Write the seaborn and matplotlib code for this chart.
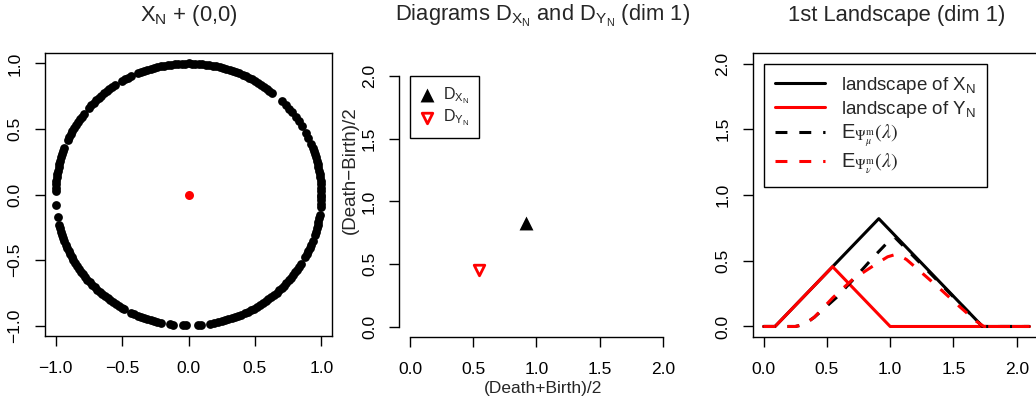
import numpy as np
import matplotlib
matplotlib.use("Agg")
import matplotlib.pyplot as plt
import seaborn as sns

# sample X_N: angles (degrees) of the points
circle_deg = [
    0, 1.5, 3, 4.5, 6, 7.5, 9, 10.5, 12, 13.5, 15, 16.5, 18, 19.5, 21, 22.5,
    25.5, 28, 31.5, 34, 36, 39, 41, 43, 45.5,
    51, 52.5, 54, 55.5, 57, 58.5, 60, 61.5, 63, 64.5, 66, 67.5, 69, 70.5, 72,
    73.5, 75, 76.5, 78, 79.5, 81, 82.5, 84, 85.5, 87, 88.5, 90, 91.5, 93, 94.5,
    96, 97.5, 99, 100.5, 102, 103.5, 105, 106.5, 108, 109.5, 111, 112.5,
    115.5, 117, 118.5, 120,
    123.5, 125, 126.5, 128, 129.5, 131, 132.5, 134, 135.5, 137, 138.5,
    142, 143.5, 145, 146.5, 148, 149.5, 151, 152.5, 154, 155.5,
    159, 160.5, 162, 163.5, 165, 166.5, 168, 169.5, 171, 172.5, 174, 175.5,
    177, 178.5,
    184.5, 190,
    193.5, 195, 196.5, 198, 199.5, 201, 202.5, 204, 205.5, 207, 208.5, 210,
    211.5, 213, 214.5, 216, 217.5, 219, 220.5, 222, 223.5, 225, 226.5, 228,
    229.5, 231, 232.5, 234, 235.5, 237, 238.5, 240, 241,
    244.5, 246, 247.5, 249, 250.5, 252, 253.5, 255, 256.5, 258,
    262, 263.5, 267.5, 269, 274, 275.5, 279.5, 281,
    283, 284.5, 286, 287.5, 289, 290.5, 292, 293.5, 295, 296.5, 298, 299.5,
    301, 302.5, 304, 305.5, 307, 308.5, 310, 311.5, 313, 314.5, 316, 317.5,
    319, 320.5, 322, 323.5, 325, 326.5, 328,
    331.5, 333, 334.5, 336, 337.5, 339,
    342, 343.5, 345, 346.5, 348, 349.5, 351,
    354.5, 356, 357.5, 359,
]
y_point = [0.0]  # Y_N = (0,0)

# diagrams, dim 1: ((death+birth)/2, (death-birth)/2)
dgm_x_mid, dgm_x_half = [0.915], [0.83]
dgm_y_mid, dgm_y_half = [0.545], [0.455]

# first landscapes
land_x_t = [0.0, 0.09, 0.91, 1.73, 2.1]
land_x_v = [0.0, 0.0, 0.82, 0.0, 0.0]
land_y_t = [0.0, 0.09, 0.545, 1.0, 2.1]
land_y_v = [0.0, 0.0, 0.455, 0.0, 0.0]
mean_mu_t = [0.0, 0.25, 0.32, 0.40, 0.575, 0.73, 0.88, 0.97, 1.0, 1.035, 1.73, 2.1]
mean_mu_v = [0.0, 0.0, 0.015, 0.07, 0.22, 0.38, 0.54, 0.63, 0.655, 0.68, 0.0, 0.0]
mean_nu_t = [0.0, 0.25, 0.32, 0.40, 0.548, 0.706, 0.89, 0.98, 1.05, 1.128,
             1.26, 1.39, 1.55, 1.68, 1.74, 2.1]
mean_nu_v = [0.0, 0.0, 0.015, 0.07, 0.22, 0.36, 0.476, 0.53, 0.55, 0.51,
             0.40, 0.29, 0.15, 0.04, 0.0, 0.0]

circ_ticks = [-1.0, -0.5, 0.0, 0.5, 1.0]
circ_labels = ["\u22121.0", "\u22120.5", "0.0", "0.5", "1.0"]
pos_ticks = [0.0, 0.5, 1.0, 1.5, 2.0]
pos_labels = ["0.0", "0.5", "1.0", "1.5", "2.0"]

sns.set_theme(style="ticks")
plt.rcParams["font.family"] = ["Liberation Sans", "DejaVu Sans"]
plt.rcParams.update({
    "axes.edgecolor": "black", "axes.linewidth": 1.0,
    "xtick.color": "black", "ytick.color": "black",
    "xtick.major.size": 7.2, "ytick.major.size": 7.2,
    "xtick.major.width": 1.0, "ytick.major.width": 1.0,
    "xtick.labelsize": 12.5, "ytick.labelsize": 12.5,
    "xtick.major.pad": 10.5, "ytick.major.pad": 9.0,
    "axes.labelsize": 12.5,
})

W, H = 1036, 404
fig = plt.figure(figsize=(W / 100, H / 100), dpi=100)


def px_axes(left, top, right, bottom):
    return fig.add_axes([left / W, 1 - bottom / H, (right - left) / W, (bottom - top) / H])


def style_ticks(ax, xt, xl, yt, yl):
    ax.set_xticks(xt)
    ax.set_xticklabels(xl)
    ax.set_yticks(yt)
    ax.set_yticklabels(yl, rotation=90, va="center")


def title(ax, text):
    pos = ax.get_position()
    fig.text((pos.x0 + pos.x1) / 2, 1 - 21 / H, text, ha="center", va="baseline",
             fontsize=15.8)


lw = 2.2
dash = (0, (3.9, 3.9))

# Panel 1: point clouds
ax1 = px_axes(45, 53, 332, 336)
rad = np.deg2rad(circle_deg)
sns.scatterplot(x=np.cos(rad), y=np.sin(rad), ax=ax1, color="black", s=40, linewidth=0)
sns.scatterplot(x=y_point, y=y_point, ax=ax1, color="red", s=42, linewidth=0)
ax1.set_xlim(-1.08, 1.08)
ax1.set_ylim(-1.08, 1.08)
style_ticks(ax1, circ_ticks, circ_labels, circ_ticks, circ_labels)
title(ax1, r"X$_\mathregular{N}$ + (0,0)")

# Panel 2: persistence diagrams
ax2 = px_axes(399.4, 66, 686, 337)
sns.scatterplot(x=dgm_x_mid, y=dgm_x_half, ax=ax2, marker="^", s=100, color="black",
                linewidth=0, label=r"$\mathregular{D_{X_N}}$")
sns.scatterplot(x=dgm_y_mid, y=dgm_y_half, ax=ax2, marker="v", s=58, color="white",
                edgecolor="red", linewidth=2.0, label=r"$\mathregular{D_{Y_N}}$")
coll = ax2.collections[-1]
coll.set_facecolor("white")
coll.set_edgecolor("red")
ax2.set_xlim(-0.084, 2.184)
ax2.set_ylim(-0.08, 2.08)
style_ticks(ax2, pos_ticks, pos_labels, pos_ticks, pos_labels)
for side in ["top", "right"]:
    ax2.spines[side].set_visible(False)
ax2.spines["left"].set_bounds(0, 2)
ax2.spines["bottom"].set_bounds(0, 2)
ax2.set_xlabel("(Death+Birth)/2")
ax2.set_ylabel("(Death\u2212Birth)/2", fontsize=13.5)
ax2.xaxis.set_label_coords(0.5, (337 - 388) / 271)
ax2.xaxis.label.set_va("center")
ax2.yaxis.set_label_coords((350 - 399.4) / 286.6, (337 - 170) / 271)
ax2.yaxis.label.set_va("center")
leg2 = ax2.legend(loc="upper left", bbox_to_anchor=(0, 2.0), bbox_transform=ax2.transData,
                  scatterpoints=1, fontsize=11.5, handlelength=0.9, handletextpad=0.55,
                  borderpad=0.6, labelspacing=0.1, borderaxespad=0, fancybox=False,
                  edgecolor="black", framealpha=1)
leg2.get_frame().set_linewidth(1.0)
title(ax2, r"Diagrams $\mathregular{D_{X_N}}$ and $\mathregular{D_{Y_N}}$ (dim 1)")

# Panel 3: landscapes
ax3 = px_axes(753, 53, 1040, 337)
sns.lineplot(x=land_x_t, y=land_x_v, ax=ax3, color="black", lw=lw, sort=False,
             estimator=None, errorbar=None, label=r"landscape of X$_\mathregular{N}$")
sns.lineplot(x=land_y_t, y=land_y_v, ax=ax3, color="red", lw=lw, sort=False,
             estimator=None, errorbar=None, label=r"landscape of Y$_\mathregular{N}$")
sns.lineplot(x=mean_mu_t, y=mean_mu_v, ax=ax3, color="black", lw=lw, sort=False,
             estimator=None, errorbar=None, linestyle=dash,
             label=r"$\mathregular{E}_{\Psi^{\mathrm{m}}_{\mu}}(\lambda)$")
sns.lineplot(x=mean_nu_t, y=mean_nu_v, ax=ax3, color="red", lw=lw, sort=False,
             estimator=None, errorbar=None, linestyle=dash,
             label=r"$\mathregular{E}_{\Psi^{\mathrm{m}}_{\nu}}(\lambda)$")
ax3.set_xlim(-0.084, 2.184)
ax3.set_ylim(-0.08, 2.08)
style_ticks(ax3, pos_ticks, pos_labels, pos_ticks, pos_labels)
leg3 = ax3.legend(loc="upper left", bbox_to_anchor=(0, 2.0), bbox_transform=ax3.transData,
                  fontsize=13.5, handlelength=2.65, handletextpad=0.9, borderpad=0.6,
                  labelspacing=0.15, borderaxespad=0, fancybox=False, edgecolor="black",
                  framealpha=1)
leg3.get_frame().set_linewidth(1.0)
for t in leg3.get_texts()[2:]:
    t.set_math_fontfamily("stix")
    t.set_fontsize(14.5)
title(ax3, "1st Landscape (dim 1)")

fig.savefig("out.png", dpi=100)
